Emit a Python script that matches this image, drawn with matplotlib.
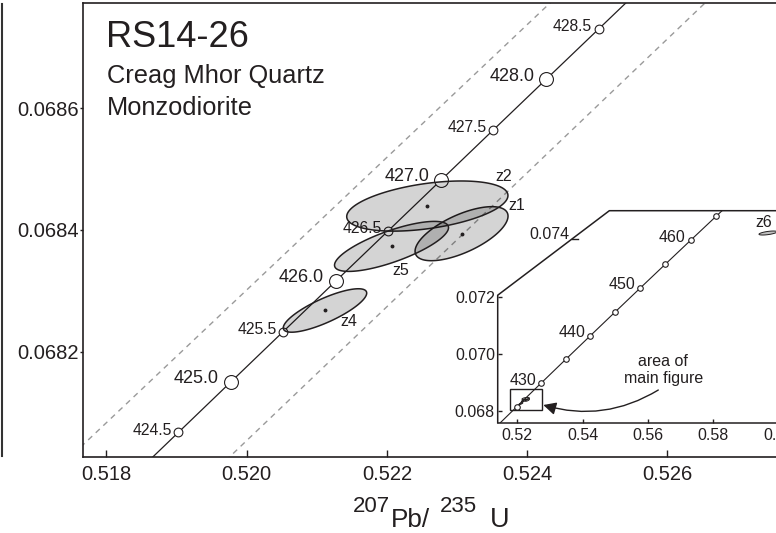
import numpy as np
import matplotlib
matplotlib.use("Agg")
import matplotlib.pyplot as plt
from matplotlib.lines import Line2D
from matplotlib.patches import Rectangle

plt.rcParams["font.family"] = ["Liberation Sans", "DejaVu Sans"]

INK = "#231f20"

# concordia ticks, main panel (Ma, 207Pb/235U, 206Pb/238U)
ages_main = [424.0, 424.5, 425.0, 425.5, 426.0, 426.5, 427.0, 427.5, 428.0, 428.5, 429.0]
pb207_main = [0.5182775, 0.5190253, 0.5197736, 0.5205221, 0.5212710, 0.5220203,
              0.5227700, 0.5235201, 0.5242705, 0.5250213, 0.5257724]
pb206_main = [0.0679842, 0.0680670, 0.0681499, 0.0682328, 0.0683157, 0.0683985,
              0.0684814, 0.0685643, 0.0686472, 0.0687300, 0.0688129]

# concordia ticks, inset
ages_inset = [420, 425, 430, 435, 440, 445, 450, 455, 460, 465, 470]
pb207_inset = [0.512308, 0.519771, 0.527276, 0.534815, 0.542392, 0.550006,
               0.557657, 0.565346, 0.573073, 0.580838, 0.588643]
pb206_inset = [0.0673218, 0.0681499, 0.0689788, 0.0698082, 0.0706383, 0.0714689,
               0.0723005, 0.0731323, 0.0739652, 0.0747984, 0.0756324]
inset_labelled = [430, 440, 450, 460]

# decay-constant uncertainty envelope (dashed)
env_upper_x = [0.5172, 0.5246]
env_upper_y = [0.0679959, 0.0688024]
env_lower_x = [0.5197, 0.5268]
env_lower_y = [0.0680206, 0.0688015]

# zircon analyses
grains = ["z1", "z2", "z4", "z5", "z6"]
r75 = [0.523066, 0.522578, 0.521118, 0.522067, 0.59679]
e75 = [0.000663, 0.00115, 0.000595, 0.000813, 0.00276]
r68 = [0.0683937, 0.0684391, 0.0682675, 0.0683728, 0.074221]
e68 = [0.0000444, 0.0000412, 0.0000357, 0.0000411, 0.00007]
rho = [0.65, 0.42, 0.80, 0.75, 0.6]

# label offsets (points) from ellipse centres
label_off = {"z1": (40, 20), "z2": (55, 21), "z4": (17, -8), "z5": (7, -17)}

W, H = 776, 533
fig = plt.figure(figsize=(W / 100, H / 100), dpi=100)


def px_box(x0, y0, x1, y1):
    return [x0 / W, 1 - y1 / H, (x1 - x0) / W, (y1 - y0) / H]


def ellipse_xy(cx, sx, cy, sy, r, n=240):
    t = np.linspace(0, 2 * np.pi, n)
    x = cx + sx * np.cos(t)
    y = cy + sy * (r * np.cos(t) + np.sqrt(1 - r * r) * np.sin(t))
    return x, y


# ---------------- main panel ----------------
ax = fig.add_axes(px_box(83, 3, 781, 457))
xlim = (0.517666, 0.527623)
ylim = (0.0680267, 0.0687728)
ax.set_xlim(*xlim)
ax.set_ylim(*ylim)

ax.plot(env_upper_x, env_upper_y, color="#9a9a9a", lw=1, dashes=(4, 3.5), zorder=1)
ax.plot(env_lower_x, env_lower_y, color="#9a9a9a", lw=1, dashes=(4, 3.5), zorder=1)
ax.plot(pb207_main, pb206_main, color=INK, lw=0.9, zorder=1)

for a, x, y in zip(ages_main, pb207_main, pb206_main):
    if a in (424.0, 429.0):
        continue
    big = float(a).is_integer()
    ax.plot(x, y, "o", ms=10 if big else 6.3, mfc="white", mec=INK, mew=0.8, zorder=1.5)
    ax.annotate(f"{a:.1f}", (x, y), xytext=(-8.4, 2.4) if big else (-4.8, 1.5),
                textcoords="offset points", ha="right", va="center",
                fontsize=13 if big else 11.3, color=INK, zorder=1.5)

for g, cx, sx, cy, sy, r in zip(grains, r75, e75, r68, e68, rho):
    ex, ey = ellipse_xy(cx, sx, cy, sy, r)
    ax.fill(ex, ey, facecolor=(0, 0, 0, 0.17), edgecolor=INK, lw=1.1, zorder=2)
    if g in label_off:
        ax.plot(cx, cy, "o", ms=1.8, color=INK, zorder=3)
        ax.annotate(g, (cx, cy), xytext=label_off[g], textcoords="offset points",
                    ha="center", va="center", fontsize=11.5, color=INK, zorder=3)

ax.set_xticks([0.518, 0.520, 0.522, 0.524, 0.526])
ax.set_xticklabels(["0.518", "0.520", "0.522", "0.524", "0.526"])
ax.set_yticks([0.0682, 0.0684, 0.0686])
ax.set_yticklabels(["0.0682", "0.0684", "0.0686"])
ax.tick_params(axis="x", direction="in", length=4.8, width=1, pad=5.8,
               labelsize=14.5, colors=INK)
ax.tick_params(axis="y", direction="out", length=2.5, width=1, pad=0.3,
               labelsize=14.5, colors=INK)
for s in ax.spines.values():
    s.set_color(INK)
    s.set_linewidth(1.2)

fig.text(106 / W, 1 - 46.7 / H, "RS14-26", fontsize=26, color=INK, va="baseline")
fig.text(107 / W, 1 - 83 / H, "Creag Mhor Quartz", fontsize=18.3, color=INK, va="baseline")
fig.text(107 / W, 1 - 115 / H, "Monzodiorite", fontsize=18.3, color=INK, va="baseline")

# x-axis title, built from pieces: 207Pb/235U
fig.text(390 / W, 1 - 511.5 / H, "207", fontsize=16, color=INK, ha="right", va="baseline")
fig.text(391 / W, 1 - 526.7 / H, "Pb/", fontsize=18.8, color=INK, ha="left", va="baseline")
fig.text(440 / W, 1 - 511.5 / H, "235", fontsize=16, color=INK, ha="left", va="baseline")
fig.text(490 / W, 1 - 526.7 / H, "U", fontsize=19.5, color=INK, ha="left", va="baseline")

fig.add_artist(Line2D([1.7 / W, 1.7 / W], [1 - 4 / H, 1 - 456 / H], color="#333333", lw=1.5))

# ---------------- inset ----------------
ix0, ix1 = 0.514, 0.605
iy0, iy1 = 0.0676, 0.075
cut_y, cut_x = 0.07205, 0.5482
ax2 = fig.add_axes(px_box(497.7, 210.7, 794.8, 422.7))
ax2.set_xlim(ix0, ix1)
ax2.set_ylim(iy0, iy1)
ax2.patch.set_visible(False)
for side in ("left", "top", "right"):
    ax2.spines[side].set_visible(False)
ax2.spines["bottom"].set_color(INK)
ax2.spines["bottom"].set_linewidth(1.1)

ax2.fill([ix0, ix0, cut_x, ix1, ix1], [iy0, cut_y, iy1, iy1, iy0], color="white", lw=0, zorder=0)
ax2.plot([ix0, ix0, cut_x, ix1], [iy0, cut_y, iy1, iy1], color=INK, lw=1.1,
         clip_on=False, zorder=5)

ax2.plot(pb207_inset, pb206_inset, color=INK, lw=0.8, zorder=1)
for a, x, y in zip(ages_inset, pb207_inset, pb206_inset):
    if a in (420, 470):
        continue
    ax2.plot(x, y, "o", ms=4, mfc="white", mec=INK, mew=0.8, zorder=2)
    if a in inset_labelled:
        ax2.annotate(str(a), (x, y), xytext=(-3.6, 2.2), textcoords="offset points",
                     ha="right", va="center", fontsize=11.5, color=INK)

for g, cx, sx, cy, sy, r in zip(grains, r75, e75, r68, e68, rho):
    ex, ey = ellipse_xy(cx, sx, cy, sy, r)
    ax2.fill(ex, ey, facecolor=(0, 0, 0, 0.25), edgecolor=INK, lw=0.7, zorder=3)
ax2.annotate("z6", (r75[4], r68[4]), xytext=(-3, 2), textcoords="offset points",
             ha="center", va="bottom", fontsize=11.5, color=INK)

ax2.add_patch(Rectangle((xlim[0], ylim[0]), xlim[1] - xlim[0], ylim[1] - ylim[0],
                        fill=False, ec=INK, lw=1, zorder=4))
ax2.text(0.56472, 0.069439, "area of\nmain figure", ha="center", va="center",
         fontsize=11.5, color=INK, linespacing=1.15)
ax2.annotate("", xy=(0.52797, 0.068218), xytext=(0.56319, 0.068741),
             arrowprops=dict(arrowstyle="-|>", connectionstyle="arc3,rad=-0.22",
                             color=INK, lw=1, mutation_scale=19, shrinkA=0, shrinkB=0))

ax2.set_xticks([0.52, 0.54, 0.56, 0.58, 0.60])
ax2.set_xticklabels(["0.52", "0.54", "0.56", "0.58", "0.60"])
ax2.set_yticks([0.068, 0.070, 0.072])
ax2.set_yticklabels(["0.068", "0.070", "0.072"])
ax2.tick_params(axis="x", direction="in", length=3, width=1, pad=4, labelsize=11.5, colors=INK)
ax2.tick_params(axis="y", direction="in", length=3, width=1, pad=2, labelsize=11.5, colors=INK)

# 0.074 tick sits on the cut corner
x074 = ix0 + (0.074 - cut_y) / (iy1 - cut_y) * (cut_x - ix0)
ax2.plot([x074, x074 + 0.002], [0.074, 0.074], color=INK, lw=1, zorder=5)
ax2.annotate("0.074", (x074, 0.074), xytext=(-1.5, 3.5), textcoords="offset points",
             ha="right", va="center", fontsize=11.5, color=INK)

fig.savefig("out.png", dpi=100)
